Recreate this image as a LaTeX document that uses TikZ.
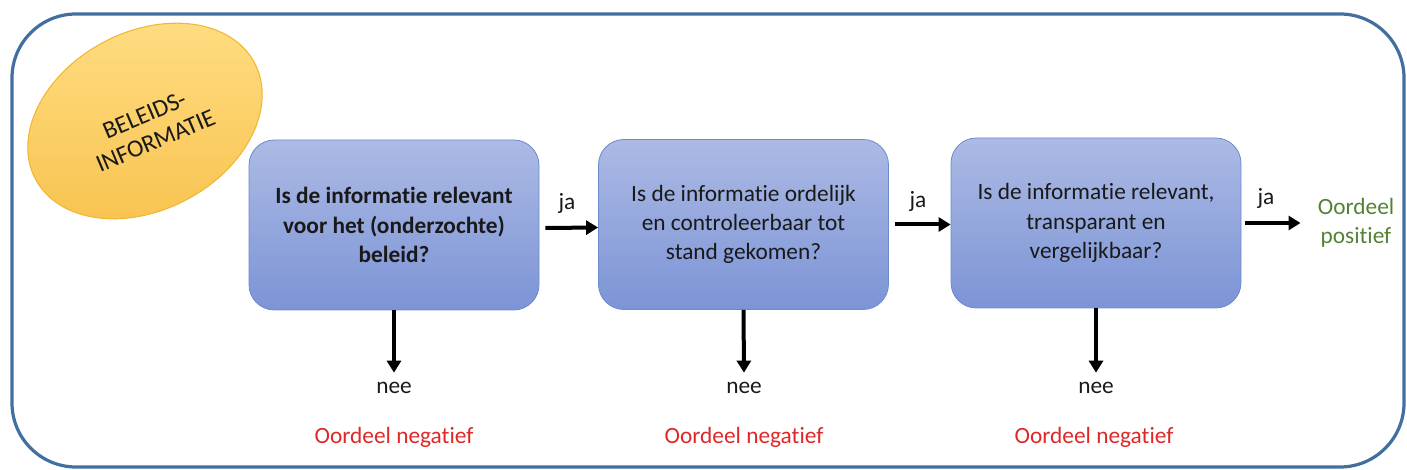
\documentclass[tikz,border=0pt]{standalone}
\usepackage{fontspec}
\setmainfont[Ligatures=NoCommon]{Carlito}
\usetikzlibrary{shapes.geometric,arrows.meta}
\definecolor{frame}{RGB}{66,110,160}
\definecolor{boxtop}{RGB}{172,186,228}
\definecolor{boxbot}{RGB}{124,148,214}
\definecolor{boxline}{RGB}{108,138,205}
\definecolor{elltop}{RGB}{255,222,132}
\definecolor{ellbot}{RGB}{248,194,78}
\definecolor{elline}{RGB}{240,184,50}
\definecolor{txt}{RGB}{25,25,25}
\definecolor{negred}{RGB}{222,40,40}
\definecolor{posgreen}{RGB}{84,130,53}
\begin{document}
\begin{tikzpicture}[x=0.75pt,y=-0.75pt,
  qbox/.style={draw=boxline, line width=0.6pt, rounded corners=19pt,
    top color=boxtop, bottom color=boxbot, minimum width=217.5pt,
    minimum height=127.5pt, align=center, text=txt,
    font=\fontsize{17.5}{22}\selectfont},
  lbl/.style={inner sep=0pt, text=txt, font=\fontsize{17.5}{22}\selectfont},
  neg/.style={inner sep=0pt, text=negred, font=\fontsize{17.5}{22}\selectfont},
  arr/.style={line width=3pt, -{Triangle[length=9pt,width=10.5pt]}}]
\useasboundingbox (0,0) rectangle (1407,470);
\draw[frame, line width=2.4pt, rounded corners=48pt] (12,14) rectangle (1404,467);

\node[ellipse, draw=elline, line width=0.8pt, top color=elltop, bottom color=ellbot,
  minimum width=186pt, minimum height=133.5pt, rotate=28, inner sep=0pt] (ell) at (145,121) {};
\node[rotate=23, inner sep=0pt, align=center, text=txt,
  font=\fontsize{18.5}{21}\selectfont] (ellt) at (150,128) {BELEIDS-\\INFORMATIE};

\node[qbox, font=\fontsize{17.5}{22}\selectfont\bfseries] (b1) at (394,225)
  {Is de informatie relevant\\voor het (onderzochte)\\beleid?};
\node[qbox] (b2) at (743.5,224.5)
  {Is de informatie ordelijk\\en controleerbaar tot\\stand gekomen?};
\node[qbox] (b3) at (1096,223)
  {Is de informatie relevant,\\transparant en\\vergelijkbaar?};

\node[inner sep=0pt, align=center, text=posgreen, font=\fontsize{17.5}{22}\selectfont]
  (pos) at (1356,223) {Oordeel\\positief};

\node[lbl] (ja1) at (567,203) {ja};
\node[lbl] (ja2) at (918,201) {ja};
\node[lbl] (ja3) at (1266,198) {ja};

\draw[arr] ([shift={(6,3)}]b1.east) -- ([shift={(0,3)}]b2.west);
\draw[arr] ([shift={(6,0)}]b2.east) -- (b3.west |- b2.east);
\draw[arr] ([shift={(4,0)}]b3.east) -- ([shift={(-17,0)}]pos.west);

\node[lbl] (nee1) at (394,388) {nee};
\node[lbl] (nee2) at (744,388) {nee};
\node[lbl] (nee3) at (1096,388) {nee};

\draw[arr] (b1.south) -- ([yshift=7pt]nee1.north);
\draw[arr] (b2.south) -- ([yshift=7pt]nee2.north);
\draw[arr] (b3.south) -- ([yshift=7pt]nee3.north);

\node[neg] (neg1) at (394,437) {Oordeel negatief};
\node[neg] (neg2) at (744,437) {Oordeel negatief};
\node[neg] (neg3) at (1094,437) {Oordeel negatief};
\end{tikzpicture}
\end{document}
